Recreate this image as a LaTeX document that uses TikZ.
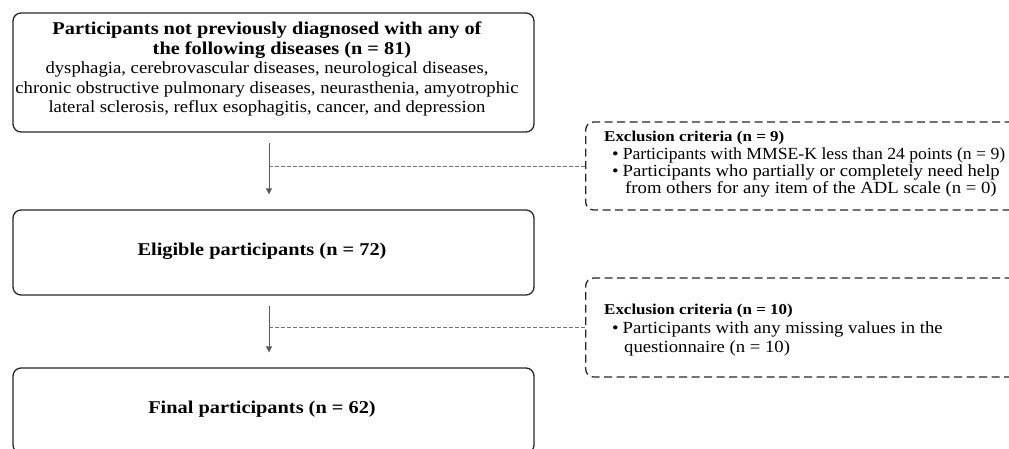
\documentclass[tikz,border=0pt]{standalone}
\usepackage{graphicx}
\usepackage{fontspec}
\setmainfont{Liberation Serif}[FakeStretch=1.1]
\newfontfamily\bfam{Liberation Serif}[FakeStretch=1.13]
\newcommand\myexhead{\fontsize{15}{17}\bfam\bfseries}
\newcommand\mytitle{\fontsize{18}{20}\bfam\bfseries}
\newcommand\mybul{\hspace*{8pt}\textbullet\hspace{4pt}}
\usetikzlibrary{arrows.meta}
\begin{document}
\begin{tikzpicture}[x=1pt,y=-1pt,
 box/.style={draw=black!85, line width=1.3pt, rounded corners=8pt, minimum width=521pt, minimum height=85pt, inner sep=0pt},
 boxtext/.style={inner sep=0pt, font=\mytitle},
 exbox/.style={draw=black!85, line width=1.3pt, dash pattern=on 8pt off 4.5pt, rounded corners=8pt, inner sep=0pt, minimum width=460pt},
 arr/.style={draw=black!65, line width=0.8pt, -{Triangle[length=6pt,width=6pt]}, shorten <=10pt, shorten >=15pt},
 conn/.style={draw=black!55, line width=0.8pt, dash pattern=on 4pt off 2pt},
 extext/.style={anchor=north west, align=left, inner sep=0pt, font=\fontsize{17}{17}\selectfont},
 maintext/.style={align=center, inner sep=0pt, font=\fontsize{17}{19.3}\selectfont}
]
\useasboundingbox (0,0) rectangle (1009,448);
\clip (0,0) rectangle (1009,448);
% main boxes
\node[box, minimum height=119pt] (b1) at (273.5,72.5) {};
\node[maintext] (b1t) at (267,69) {{\mytitle Participants not previously diagnosed with any of}\\[0.5pt]
{\mytitle \hspace*{30pt}the following diseases (n = 81)}\\
dysphagia, cerebrovascular diseases, neurological diseases,\\
chronic obstructive pulmonary diseases, neurasthenia, amyotrophic\\
lateral sclerosis, reflux esophagitis, cancer, and depression};
\node[box] (b2) at (273.5,252.5) {};
\node[boxtext] (b2t) at (262,251) {Eligible participants (n = 72)};
\node[box] (b3) at (273.5,410.5) {};
\node[boxtext] (b3t) at (262,409) {Final participants (n = 62)};
% exclusion boxes
\node[exbox, minimum height=88pt, anchor=west] (e1) at (585,166) {};
\node[exbox, minimum height=99pt, anchor=west] (e2) at (585,327.5) {};
\node[extext] (e1t) at (604,131) {{\myexhead Exclusion criteria (n = 9)}\\[1pt]
\mybul\scalebox{0.945}[1]{Participants with MMSE-K less than 24 points (n = 9)}\\
\mybul Participants who partially or completely need help\\
\hspace*{21pt}from others for any item of the ADL scale (n = 0)};
\node[extext] (e2t) at (604,304) {{\myexhead Exclusion criteria (n = 10)}\\[2pt]
\mybul Participants with any missing values in the\\[2pt]
\hspace*{20pt}questionnaire (n = 10)};
% arrows
\coordinate (ax) at (269,0);
\draw[arr] (b1.south -| ax) -- (b2.north -| ax);
\draw[arr] (b2.south -| ax) -- (b3.north -| ax);
\coordinate (j1) at (ax |- e1.west);
\coordinate (j2) at (ax |- e2.west);
\draw[conn] (j1) -- (e1.west);
\draw[conn] (j2) -- (e2.west);
\end{tikzpicture}
\end{document}
